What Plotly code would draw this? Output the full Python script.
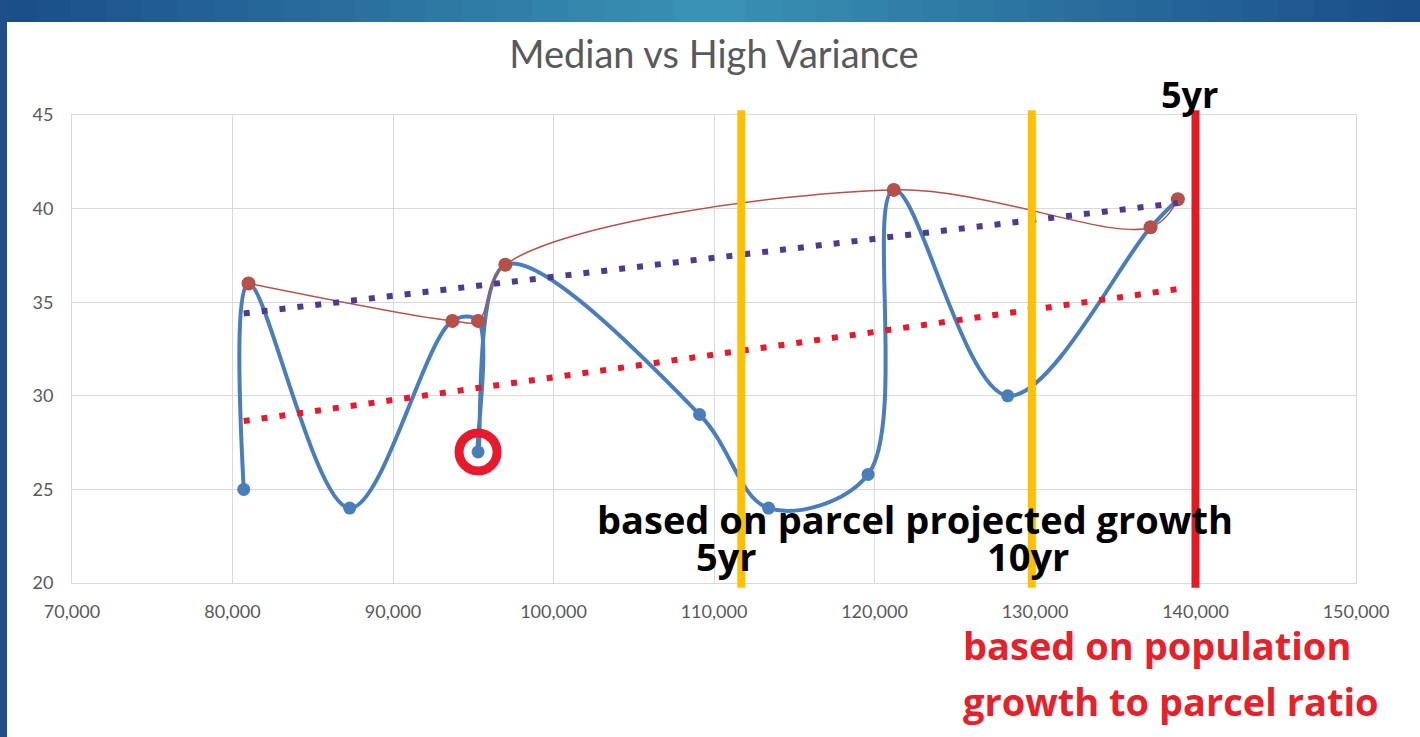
import plotly.graph_objects as go

# all points (blue, smoothed line through every point)
all_x = [80700, 81000, 87300, 93700, 95300, 95300, 97000, 109100, 113400, 119600, 121200, 128300, 137200, 138900]
all_y = [25, 36, 24, 34, 34, 27, 37, 29, 24, 25.8, 41, 30, 39, 40.5]

# median points (red)
med_x = [81000, 93700, 95300, 97000, 121200, 137200, 138900]
med_y = [36, 34, 34, 37, 41, 39, 40.5]

# trendline end points
trend_med_x = [80700, 138900]
trend_med_y = [34.4, 40.3]
trend_all_x = [80700, 138900]
trend_all_y = [28.65, 35.7]

# highlighted outlier
outlier_x = [95300]
outlier_y = [27]

# projection markers
parcel_5yr_x = 111700
parcel_10yr_x = 129800
pop_5yr_x = 140000

x_ticks = [70000, 80000, 90000, 100000, 110000, 120000, 130000, 140000, 150000]
y_ticks = [20, 25, 30, 35, 40, 45]

W, H = 1420, 737
L, R, T, B = 72, 64, 115, 154
pw, ph = W - L - R, H - T - B


def px(xp):
    return (xp - L) / pw


def py(yp):
    return (H - B - yp) / ph


fig = go.Figure()

fig.add_trace(go.Scatter(
    x=all_x, y=all_y, mode='lines+markers',
    line=dict(color='#4A7EBB', width=4, shape='spline', smoothing=1.0),
    marker=dict(color='#4A7EBB', size=13),
    name='All'
))

fig.add_trace(go.Scatter(
    x=med_x, y=med_y, mode='lines+markers',
    line=dict(color='#B5504A', width=1.5, shape='spline', smoothing=1.0),
    marker=dict(color='#B5504A', size=14),
    name='Median'
))

fig.add_trace(go.Scatter(
    x=trend_med_x, y=trend_med_y, mode='lines',
    line=dict(color='#4E3B8F', width=6, dash='6px,12px'),
    name='Median trend'
))

fig.add_trace(go.Scatter(
    x=trend_all_x, y=trend_all_y, mode='lines',
    line=dict(color='#E8192C', width=6, dash='6px,12px'),
    name='All trend'
))

fig.add_trace(go.Scatter(
    x=outlier_x, y=outlier_y, mode='markers',
    marker=dict(symbol='circle-open', size=38, color='#E8192C',
                line=dict(color='#E8192C', width=9)),
    name='Outlier'
))

# vertical projection lines
for xv, col in [(parcel_5yr_x, '#FFC000'), (parcel_10yr_x, '#FFC000'), (pop_5yr_x, '#E31B23')]:
    fig.add_shape(type='line', xref='x', yref='paper', x0=xv, x1=xv, y0=-0.01, y1=1.01,
                  line=dict(color=col, width=8))

# background frame: top gradient band and left stripe
left_c = (27, 79, 138)
mid_c = (58, 147, 181)
n = 40
for i in range(n):
    t = i / (n - 1)
    f = 1 - abs(2 * t - 1)
    c = tuple(int(left_c[k] + (mid_c[k] - left_c[k]) * f) for k in range(3))
    fig.add_shape(type='rect', xref='paper', yref='paper', layer='below',
                  x0=px(i * W / n), x1=px((i + 1) * W / n + 1), y0=py(22), y1=py(0),
                  line=dict(width=0), fillcolor='rgb(%d,%d,%d)' % c)
fig.add_shape(type='rect', xref='paper', yref='paper', layer='below',
              x0=px(0), x1=px(7), y0=py(H), y1=py(0),
              line=dict(width=0), fillcolor='#1E4F8B')

bold_font = dict(family='Open Sans', size=38, color='black', weight='bold')
fig.add_annotation(x=122500, y=23.4, text='based on parcel projected growth', showarrow=False,
                   font=bold_font, xanchor='center', yanchor='middle', borderpad=0)
fig.add_annotation(x=parcel_5yr_x, y=21.45, text='5yr', showarrow=False, font=bold_font,
                   xanchor='right', xshift=17, yanchor='middle', borderpad=0)
fig.add_annotation(x=parcel_10yr_x, y=21.45, text='10yr', showarrow=False, font=bold_font,
                   xanchor='right', xshift=38, yanchor='middle', borderpad=0)
fig.add_annotation(x=pop_5yr_x, y=45, text='5yr', showarrow=False,
                   font=dict(family='Open Sans', size=36, color='black', weight='bold'),
                   xanchor='center', xshift=-6, yanchor='bottom', yshift=-6)
red_font = dict(family='Open Sans', size=38, color='#E8202A', weight='bold')
fig.add_annotation(xref='paper', yref='paper', x=px(962), y=py(645),
                   text='based on population', showarrow=False,
                   xanchor='left', yanchor='middle', font=red_font, borderpad=0)
fig.add_annotation(xref='paper', yref='paper', x=px(962), y=py(701),
                   text='growth to parcel ratio', showarrow=False,
                   xanchor='left', yanchor='middle', font=red_font, borderpad=0)

fig.update_layout(
    width=W, height=H,
    margin=dict(l=L, r=R, t=T, b=B),
    paper_bgcolor='white', plot_bgcolor='white',
    showlegend=False,
    title=dict(text='Median vs High Variance', x=0.5, xref='paper', y=1 - 55 / H,
               yanchor='middle', xanchor='center',
               font=dict(family='Lato', size=38, color='#595959')),
    font=dict(family='Lato', color='#595959'),
)

fig.update_xaxes(range=[70000, 150000], tickvals=x_ticks, tickformat=',',
                 showgrid=True, gridcolor='#D9D9D9', gridwidth=1,
                 showline=True, linecolor='#D9D9D9', mirror=True, zeroline=False,
                 tickfont=dict(size=18, color='#595959'), ticklabelstandoff=12)
fig.update_yaxes(range=[20, 45], tickvals=y_ticks,
                 showgrid=True, gridcolor='#D9D9D9', gridwidth=1,
                 showline=True, linecolor='#D9D9D9', mirror=True, zeroline=False,
                 tickfont=dict(size=18, color='#595959'), ticklabelstandoff=14)

fig.write_html("out.html", config={'displayModeBar': False},
               post_script="document.body.style.margin='0px';")
